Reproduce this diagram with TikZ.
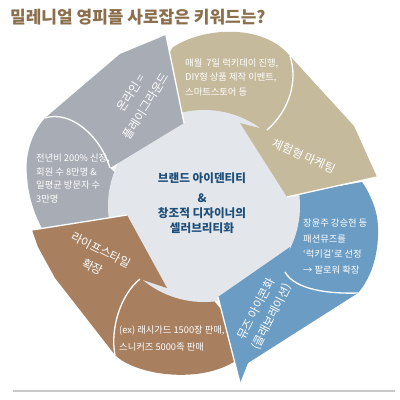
\documentclass[tikz,border=0pt]{standalone}
\usepackage{fontspec}
\setmainfont{Noto Sans CJK KR}
\definecolor{cgray}{RGB}{168,172,181}
\definecolor{ctan}{RGB}{197,186,156}
\definecolor{cblue}{RGB}{106,156,196}
\definecolor{cbrown}{RGB}{168,128,96}
\definecolor{ccircle}{RGB}{227,231,235}
\definecolor{ctitle}{RGB}{139,110,76}
\definecolor{cnavy}{RGB}{30,78,122}
\definecolor{cline}{RGB}{200,200,200}
\newcommand\myBody{\fontsize{9.3}{11}\selectfont}
\newcommand\myArr{\fontsize{11.7}{18}\selectfont}
\newcommand\myCtr{\fontsize{11.6}{14}\selectfont\bfseries}
\newcommand\myTitle{\fontsize{17}{20}\selectfont\bfseries}
\tikzset{
  sep/.style={draw=white, line width=1.3pt},
  body/.style={anchor=base west, inner sep=0, text=white, font=\myBody},
  arrtxt/.style={inner sep=0, text=white, font=\myArr},
  ctr/.style={anchor=base, inner sep=0, text=cnavy, font=\myCtr},
}
\begin{document}
\begin{tikzpicture}[x=1pt,y=-1pt]
\useasboundingbox (0,0) rectangle (400,400);
\fill[white] (0,0) rectangle (400,400);
% coordinates
\coordinate (gA) at (45,118); \coordinate (gB) at (120,54); \coordinate (gT) at (166,35);
\coordinate (gD) at (184,123); \coordinate (gF) at (110,168);
\coordinate (tA) at (290,56); \coordinate (tB) at (354,126); \coordinate (tT) at (377,177);
\coordinate (tD) at (287,197); \coordinate (tE) at (240,123); \coordinate (tF) at (267,130);
\coordinate (bA) at (358,293); \coordinate (bB) at (248,363); \coordinate (bT) at (240,383);
\coordinate (bD) at (218,297); \coordinate (bE) at (290,247); \coordinate (bF) at (285,272);
\coordinate (rA) at (115,355); \coordinate (rB) at (55,278); \coordinate (rT) at (32,230);
\coordinate (rD) at (127,215); \coordinate (rE) at (167,288); \coordinate (rF) at (140,279);
\coordinate (cc) at (204,206);
% blobs
\fill[cgray] (gA) .. controls (30,135) and (25,158) .. (27,175) .. controls (28,195) and (34,214) .. (43,230)
  -- (70,245) -- (120,226) -- (150,205) -- (gF) .. controls (100,135) and (70,110) .. (gA) -- cycle;
\fill[ctan] (165,62) -- (172,48) .. controls (200,28) and (262,22) .. (tA)
  .. controls (298,80) and (290,110) .. (tF) -- (240,140) -- (180,125) -- cycle;
\fill[cblue] (bF) -- (282,250) -- (260,225) -- (300,192) -- (345,185) -- (362,182)
  .. controls (368,190) and (375,205) .. (377,217) .. controls (380,235) and (378,270) .. (bA)
  .. controls (330,294) and (295,290) .. (bF) -- cycle;
\fill[cbrown] (rF) .. controls (120,295) and (110,330) .. (rA) .. controls (135,375) and (200,385) .. (237,360)
  -- (230,320) -- (205,290) -- (155,262) -- cycle;
% centre
\fill[ccircle] (cc) circle[radius=96pt];
% arrows
\fill[cgray] (gA) -- (gB) -- (gT) -- (gD) -- (gF) .. controls (100,135) and (70,110) .. (gA) -- cycle;
\fill[ctan] (tA) -- (tB) -- (tT) -- (tD) -- (tE) -- (tF) .. controls (290,110) and (298,80) .. (tA) -- cycle;
\fill[cblue] (bA) -- (bB) -- (bT) -- (bD) -- (bE) -- (bF) .. controls (295,290) and (330,294) .. (bA) -- cycle;
\fill[cbrown] (rA) -- (rB) -- (38,247) -- (rT) -- (rD) -- (rE) -- (rF) .. controls (120,295) and (110,330) .. (rA) -- cycle;
% white separators
\draw[sep] (gT) -- (gD);
\draw[sep] (tT) -- (tD);
\draw[sep] (bD) -- (bT);
\draw[sep] (rT) -- (rD);
\draw[sep] (gA) .. controls (70,110) and (100,135) .. (gF);
\draw[sep] (tA) .. controls (298,80) and (290,110) .. (tF);
\draw[sep] (bA) .. controls (330,294) and (295,290) .. (bF);
\draw[sep] (rF) .. controls (120,295) and (110,330) .. (rA);
% bottom rule
\coordinate (l1) at (13,391); \coordinate (l2) at (395,391);
\draw[cline, line width=1.5pt] (l1) -- (l2);
% title
\node[anchor=base west, inner sep=0, text=ctitle, font=\myTitle] (title) at (10,23.8) {밀레니얼 영피플 사로잡은 키워드는?};
% gray texts
\node[body] (g1) at (36,161.5) {전년비 200\% 신장,};
\node[body] (g2) at (36,175.5) {회원 수 8만명 \&};
\node[body] (g3) at (36,188.5) {일평균 방문자 수};
\node[body] (g4) at (36,202.5) {3만명};
\node[arrtxt, rotate=58] (ga1) at (131,93) {온라인 =};
\node[arrtxt, rotate=58] (ga2) at (146,106) {플레이그라운드};
% tan texts
\node[body] (t1) at (185,66.5) {매월\ \ 7일 럭키데이 진행,};
\node[body] (t2) at (185,80.5) {DIY형 상품 제작 이벤트,};
\node[body] (t3) at (185,95.5) {스마트스토어 등};
\node[arrtxt, rotate=-24] (ta) at (304,156) {체험형 마케팅};
% blue texts
\node[body] (b1) at (303,226.5) {장윤주 강승현 등};
\node[body] (b2) at (303,242) {패션뮤즈를};
\node[body] (b3) at (303,257.5) {‘럭키걸’로 선정};
\node[body] (b4) at (303,273) {→ 팔로워 확장};
\node[arrtxt, rotate=63] (ba1) at (256,309) {뮤즈 아이콘화};
\node[arrtxt, rotate=63] (ba2) at (272,317) {(콜래보레이션)};
% brown texts
\node[body] (r1) at (119,333.5) {(ex) 래시가드 1500장 판매,};
\node[body] (r2) at (119,350.5) {스니커즈 5000족 판매};
\node[arrtxt, rotate=-27] (ra1) at (101,250) {라이프스타일};
\node[arrtxt, rotate=-27] (ra2) at (93,267) {확장};
% centre texts
\node[ctr] (c1) at (202,182.9) {브랜드 아이덴티티};
\node[ctr] (c2) at (202,202.2) {\&};
\node[ctr] (c3) at (202,217.9) {창조적 디자이너의};
\node[ctr] (c4) at (202,232.9) {셀러브리티화};
\end{tikzpicture}
\end{document}
